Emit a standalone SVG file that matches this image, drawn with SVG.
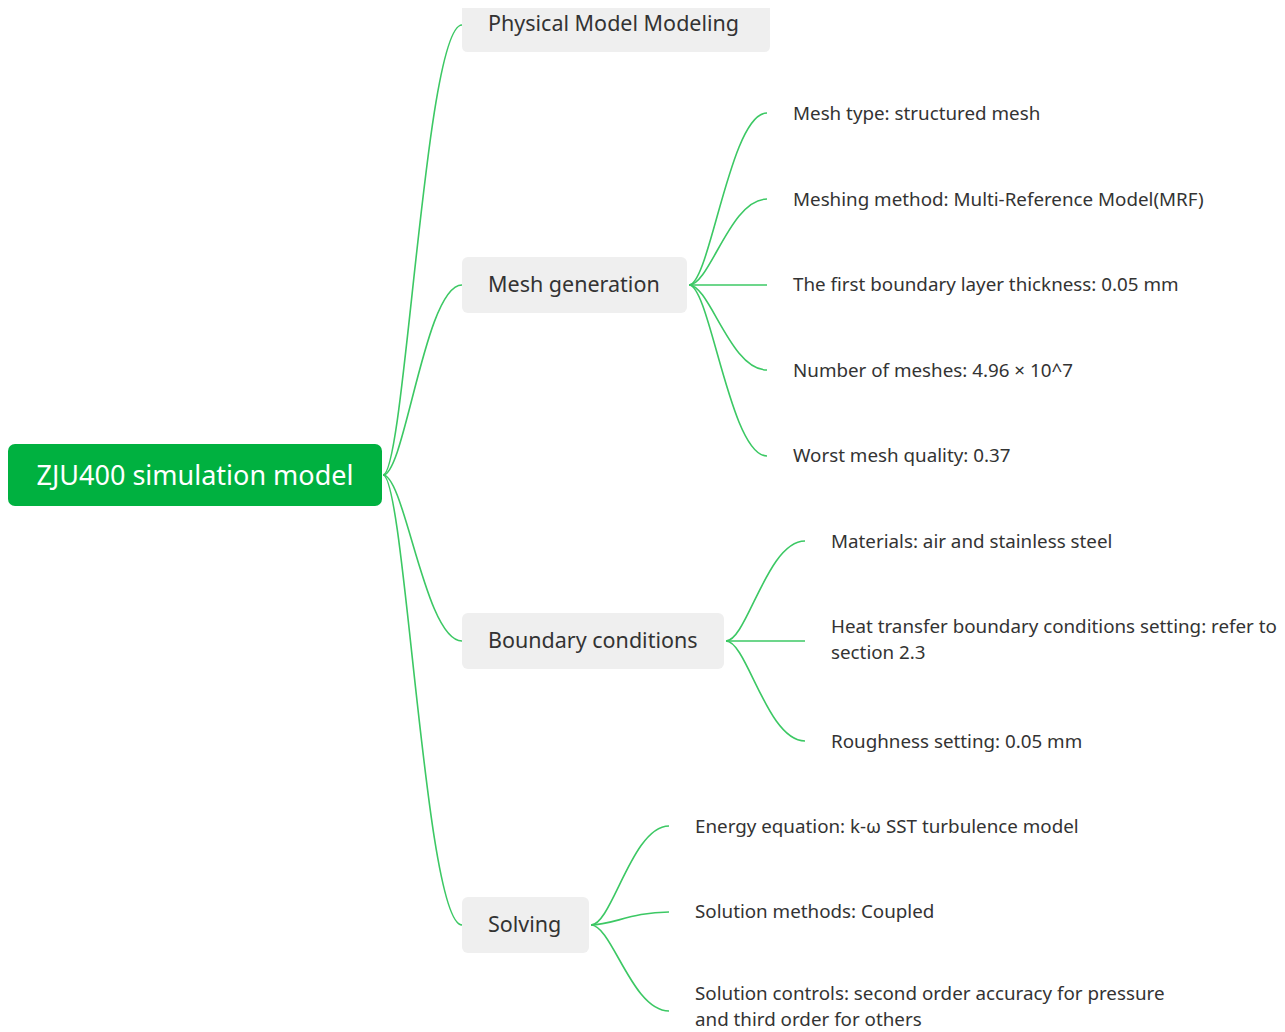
<svg xmlns="http://www.w3.org/2000/svg" width="1285" height="1032" viewBox="0 0 1285 1032">
<style>
.link{fill:none;stroke:#3cc864;stroke-width:1.6}
.box{fill:#efefef}
.t1{font-family:"Noto Sans","Open Sans",sans-serif;font-size:21.5px;fill:#333}
.t2{font-family:"Noto Sans","Open Sans",sans-serif;font-size:18.8px;fill:#333}
.root{font-family:"Noto Sans","Open Sans",sans-serif;font-size:27px;fill:#fff}
</style>
<rect width="1285" height="1032" fill="#fff"/>
<g id="connectors">
<path class="link" d="M383,475 C405,475 425,25 462,25"/>
<path class="link" d="M383,475 C405,475 425,285 462,285"/>
<path class="link" d="M383,475 C405,475 425,641 462,641"/>
<path class="link" d="M383,475 C405,475 425,925 462,925"/>
<path class="link" d="M689,285 C710,285 730,113 767,113"/>
<path class="link" d="M689,285 C710,285 730,199 767,199"/>
<path class="link" d="M689,285 L767,285"/>
<path class="link" d="M689,285 C710,285 730,370 767,370"/>
<path class="link" d="M689,285 C710,285 730,456 767,456"/>
<path class="link" d="M726,641 C747,641 767,541 805,541"/>
<path class="link" d="M726,641 L805,641"/>
<path class="link" d="M726,641 C747,641 767,741 805,741"/>
<path class="link" d="M591,925 C612,925 632,826 669,826"/>
<path class="link" d="M591,925 C612,925 632,912 669,912"/>
<path class="link" d="M591,925 C612,925 632,1011 669,1011"/>
</g>
<g id="root">
<rect x="8" y="444" width="374" height="62" rx="7" fill="#00b140"/>
<text class="root" x="195" y="485" text-anchor="middle">ZJU400 simulation model</text>
</g>
<g id="physical">
<path class="box" d="M462,8 H770 V46 Q770,52 764,52 H468 Q462,52 462,46 Z"/>
<text class="t1" x="488" y="31">Physical Model Modeling</text>
</g>
<g id="mesh">
<rect class="box" x="462" y="257" width="225" height="56" rx="6"/>
<text class="t1" x="488" y="292">Mesh generation</text>
</g>
<g id="boundary">
<rect class="box" x="462" y="613" width="262" height="56" rx="6"/>
<text class="t1" x="488" y="648">Boundary conditions</text>
</g>
<g id="solving">
<rect class="box" x="462" y="897" width="127" height="56" rx="6"/>
<text class="t1" x="488" y="932">Solving</text>
</g>
<g id="mesh-type"><text class="t2" x="793" y="120">Mesh type: structured mesh</text></g>
<g id="mesh-method"><text class="t2" x="793" y="206">Meshing method: Multi-Reference Model(MRF)</text></g>
<g id="mesh-layer"><text class="t2" x="793" y="291">The first boundary layer thickness: 0.05 mm</text></g>
<g id="mesh-number"><text class="t2" x="793" y="377">Number of meshes: 4.96 × 10^7</text></g>
<g id="mesh-quality"><text class="t2" x="793" y="462">Worst mesh quality: 0.37</text></g>
<g id="bc-materials"><text class="t2" x="831" y="548">Materials: air and stainless steel</text></g>
<g id="bc-heat"><text class="t2"><tspan x="831" y="633">Heat transfer boundary conditions setting: refer to</tspan><tspan x="831" y="659">section 2.3</tspan></text></g>
<g id="bc-rough"><text class="t2" x="831" y="748">Roughness setting: 0.05 mm</text></g>
<g id="solve-energy"><text class="t2" x="695" y="833">Energy equation: k-ω SST turbulence model</text></g>
<g id="solve-methods"><text class="t2" x="695" y="918">Solution methods: Coupled</text></g>
<g id="solve-controls"><text class="t2"><tspan x="695" y="1000">Solution controls: second order accuracy for pressure</tspan><tspan x="695" y="1026">and third order for others</tspan></text></g>
</svg>
